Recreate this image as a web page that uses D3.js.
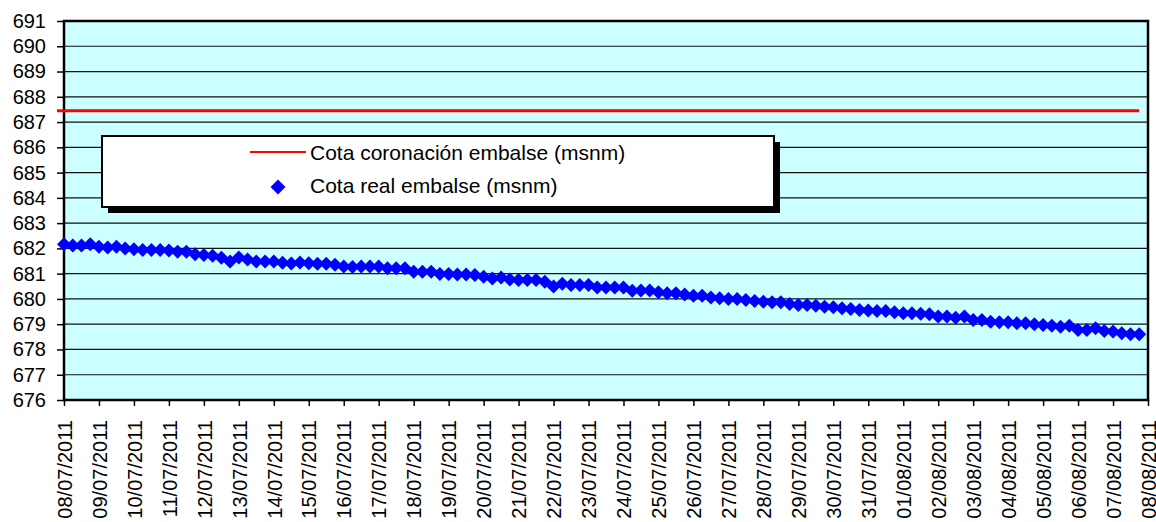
<!DOCTYPE html>
<html>
<head>
<meta charset="utf-8">
<script src="https://cdn.jsdelivr.net/npm/d3@7"></script>
<style>
  body { margin: 0; background: #fff; }
  svg { display: block; font-family: "Liberation Sans", Arial, sans-serif; }
  .axis path { display: none; }
  .axis line { stroke: #000; stroke-width: 1.5; }
  .axis text { fill: #000; }
</style>
</head>
<body>
<svg id="chart" width="1156" height="522"></svg>
<script>

//categories (x tick labels)
var tickLabels = ["08/07/2011","09/07/2011","10/07/2011","11/07/2011","12/07/2011","13/07/2011",
  "14/07/2011","15/07/2011","16/07/2011","17/07/2011","18/07/2011","19/07/2011","20/07/2011",
  "21/07/2011","22/07/2011","23/07/2011","24/07/2011","25/07/2011","26/07/2011","27/07/2011",
  "28/07/2011","29/07/2011","30/07/2011","31/07/2011","01/08/2011","02/08/2011","03/08/2011",
  "04/08/2011","05/08/2011","06/08/2011","07/08/2011","08/08/2011"];

//y tick values
var yTicks = [676,677,678,679,680,681,682,683,684,685,686,687,688,689,690,691];

//series: cota real embalse (msnm), one reading every 6 hours from 08/07/2011 00:00
var realLevel = [
  682.16,682.11,682.11,682.16,682.07,682.04,682.07,682.00,681.97,681.94,681.94,681.94,
  681.92,681.87,681.87,681.77,681.74,681.71,681.63,681.48,681.64,681.56,681.48,681.48,
  681.48,681.43,681.40,681.44,681.41,681.39,681.39,681.35,681.28,681.26,681.28,681.28,
  681.28,681.21,681.21,681.21,681.08,681.08,681.08,680.99,680.99,680.97,680.97,680.95,
  680.88,680.81,680.85,680.77,680.75,680.75,680.75,680.68,680.49,680.60,680.55,680.55,
  680.55,680.45,680.45,680.45,680.45,680.32,680.33,680.33,680.26,680.22,680.22,680.18,
  680.13,680.13,680.06,680.03,680.00,680.00,679.96,679.92,679.89,679.87,679.87,679.80,
  679.76,679.76,679.73,679.69,679.67,679.63,679.60,679.56,679.54,679.52,679.52,679.47,
  679.43,679.43,679.41,679.39,679.30,679.30,679.26,679.30,679.17,679.17,679.10,679.08,
  679.08,679.04,679.04,679.00,678.97,678.94,678.90,678.94,678.77,678.77,678.84,678.73,
  678.71,678.64,678.60,678.60];

//series: cota coronación embalse (msnm), constant
var crestLevel = 687.45;

var parseDate = d3.timeParse("%d/%m/%Y");
var tickDates = tickLabels.map(parseDate);
var startDate = tickDates[0];

//one point per reading
var points = realLevel.map(function(v, i) {
  return { date: d3.timeHour.offset(startDate, i * 6), value: v };
});

var svg = d3.select("#chart"),
    plotLeft = 64, plotRight = 1148, plotTop = 21, plotBottom = 400;

//scales
var x = d3.scaleTime()
    .domain([tickDates[0], tickDates[tickDates.length - 1]])
    .range([plotLeft, plotRight]);

var y = d3.scaleLinear()
    .domain([676, 691])
    .range([plotBottom, plotTop]);

//plot background
svg.append("rect")
    .attr("x", plotLeft)
    .attr("y", plotTop)
    .attr("width", plotRight - plotLeft)
    .attr("height", plotBottom - plotTop)
    .attr("fill", "#ccffff");

//gridlines
svg.append("g")
    .selectAll("line")
    .data(yTicks.slice(1, -1))
    .enter()
    .append("line")
    .attr("x1", plotLeft)
    .attr("x2", plotRight)
    .attr("y1", function(d) { return y(d); })
    .attr("y2", function(d) { return y(d); })
    .attr("stroke", "#111")
    .attr("stroke-width", 1.2);

//border
svg.append("rect")
    .attr("x", plotLeft)
    .attr("y", plotTop)
    .attr("width", plotRight - plotLeft)
    .attr("height", plotBottom - plotTop)
    .attr("fill", "none")
    .attr("stroke", "#000")
    .attr("stroke-width", 2.5);

//y axis
svg.append("g")
    .attr("class", "axis")
    .attr("transform", "translate(" + plotLeft + ",0)")
    .call(d3.axisLeft(y).tickValues(yTicks).tickSize(7).tickPadding(11).tickFormat(d3.format("d")))
    .selectAll("text")
    .style("font-size", "20px");

//x axis
var xAxisG = svg.append("g")
    .attr("class", "axis")
    .attr("transform", "translate(0," + plotBottom + ")")
    .call(d3.axisBottom(x).tickValues(tickDates).tickSize(6)
      .tickFormat(function(d, i) { return tickLabels[i]; }));

xAxisG.selectAll("text")
    .style("font-size", "20px")
    .attr("text-anchor", "end")
    .attr("transform", "rotate(-90)")
    .attr("x", -20)
    .attr("y", 0)
    .attr("dy", "0.36em");

//crest line (red)
svg.append("line")
    .attr("x1", x(points[0].date) - 7)
    .attr("x2", x(points[points.length - 1].date))
    .attr("y1", y(crestLevel))
    .attr("y2", y(crestLevel))
    .attr("stroke", "#ff0000")
    .attr("stroke-width", 3);

//diamond path, square rotated
function diamond(h) {
  return "M0," + (-h) + "L" + h + ",0L0," + h + "L" + (-h) + ",0Z";
}

//real level markers
svg.append("g")
    .selectAll("path")
    .data(points)
    .enter()
    .append("path")
    .attr("d", diamond(7))
    .attr("transform", function(d) { return "translate(" + x(d.date) + "," + y(d.value) + ")"; })
    .attr("fill", "#0000ff");

//legend
var legend = svg.append("g");

legend.append("rect")
    .attr("x", 108)
    .attr("y", 142)
    .attr("width", 672)
    .attr("height", 71)
    .attr("fill", "#000");

legend.append("rect")
    .attr("x", 102)
    .attr("y", 136)
    .attr("width", 672)
    .attr("height", 71)
    .attr("fill", "#fff")
    .attr("stroke", "#000")
    .attr("stroke-width", 2);

legend.append("line")
    .attr("x1", 250)
    .attr("x2", 306)
    .attr("y1", 152)
    .attr("y2", 152)
    .attr("stroke", "#ff0000")
    .attr("stroke-width", 2);

legend.append("path")
    .attr("d", diamond(7.5))
    .attr("transform", "translate(278,187)")
    .attr("fill", "#0000ff");

legend.append("text")
    .attr("x", 310)
    .attr("y", 160)
    .style("font-size", "21px")
    .text("Cota coronación embalse (msnm)");

legend.append("text")
    .attr("x", 310)
    .attr("y", 193)
    .style("font-size", "21px")
    .text("Cota real embalse (msnm)");

</script>
</body>
</html>
